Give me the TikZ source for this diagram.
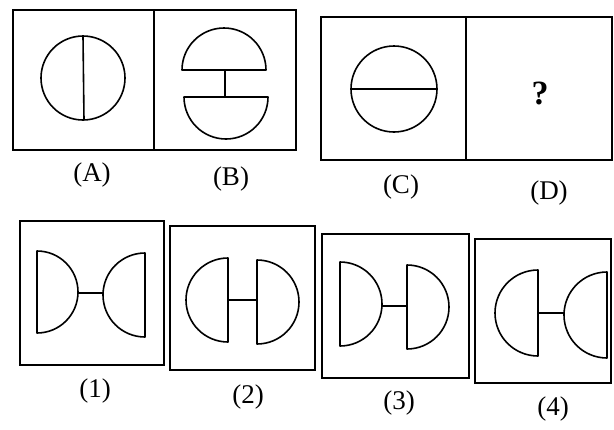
\documentclass[tikz,border=0pt]{standalone}
\usepackage{fontspec}
\setmainfont{Liberation Serif}
\begin{document}
\begin{tikzpicture}[x=1pt,y=-1pt,
  fig/.style={line width=1.6pt,line join=round},
  frame/.style={line width=1.8pt},
  lbl/.style={font=\fontsize{27}{30}\selectfont,inner sep=0pt}]
\useasboundingbox (0,0) rectangle (614,429);
% top-left pair
\draw[frame] (13,10) rectangle (296,150);
\draw[frame] (154,10) -- (154,150);
\draw[fig] (83,78) circle[radius=42];
\draw[fig] (83,36) -- (84,120);
\draw[fig] (182,70) arc[start angle=180,end angle=360,radius=42] -- cycle;
\draw[fig] (184,97) arc[start angle=180,end angle=0,radius=42] -- cycle;
\coordinate (b1) at (225,70); \coordinate (b2) at (225,97);
\draw[fig] (b1) -- (b2);
\node[lbl] (la) at (92,175) {(A)};
\node[lbl] (lb) at (231,179) {(B)};
% top-right pair
\draw[frame] (321,17) rectangle (612,160);
\draw[frame] (466,17) -- (466,160);
\draw[fig] (394,89) circle[radius=43];
\draw[fig] (351,89) -- (437,89);
\node[font=\fontsize{34}{38}\selectfont\bfseries,inner sep=0pt] (q) at (540,93) {?};
\node[lbl] (lc) at (401,187) {(C)};
\node[lbl] (ld) at (549,193) {(D)};
% option boxes
\draw[frame] (20,221) rectangle (164,365);
\draw[frame] (170,226) rectangle (315,370);
\draw[frame] (322,234) rectangle (469,378);
\draw[frame] (475,239) rectangle (611,383);
% (1)
\draw[fig] (37,251) arc[start angle=-90,end angle=90,radius=41] -- cycle;
\draw[fig] (145,253) arc[start angle=-90,end angle=-270,radius=42] -- cycle;
\coordinate (c1a) at (78,293); \coordinate (c1b) at (103,293);
\draw[fig] (c1a) -- (c1b);
% (2)
\draw[fig] (228,258) arc[start angle=-90,end angle=-270,radius=42] -- cycle;
\draw[fig] (257,260) arc[start angle=-90,end angle=90,radius=42] -- cycle;
\coordinate (c2a) at (228,300); \coordinate (c2b) at (257,300);
\draw[fig] (c2a) -- (c2b);
% (3)
\draw[fig] (340,262) arc[start angle=-90,end angle=90,radius=42] -- cycle;
\draw[fig] (407,265) arc[start angle=-90,end angle=90,radius=42] -- cycle;
\coordinate (c3a) at (382,306); \coordinate (c3b) at (407,306);
\draw[fig] (c3a) -- (c3b);
% (4)
\draw[fig] (538,270) arc[start angle=-90,end angle=-270,radius=43] -- cycle;
\draw[fig] (607,272) arc[start angle=-90,end angle=-270,radius=43] -- cycle;
\coordinate (c4a) at (538,313); \coordinate (c4b) at (564,313);
\draw[fig] (c4a) -- (c4b);
\node[lbl] (l1) at (95,391) {(1)};
\node[lbl] (l2) at (248,397) {(2)};
\node[lbl] (l3) at (399,403) {(3)};
\node[lbl] (l4) at (553,409) {(4)};
\end{tikzpicture}
\end{document}
